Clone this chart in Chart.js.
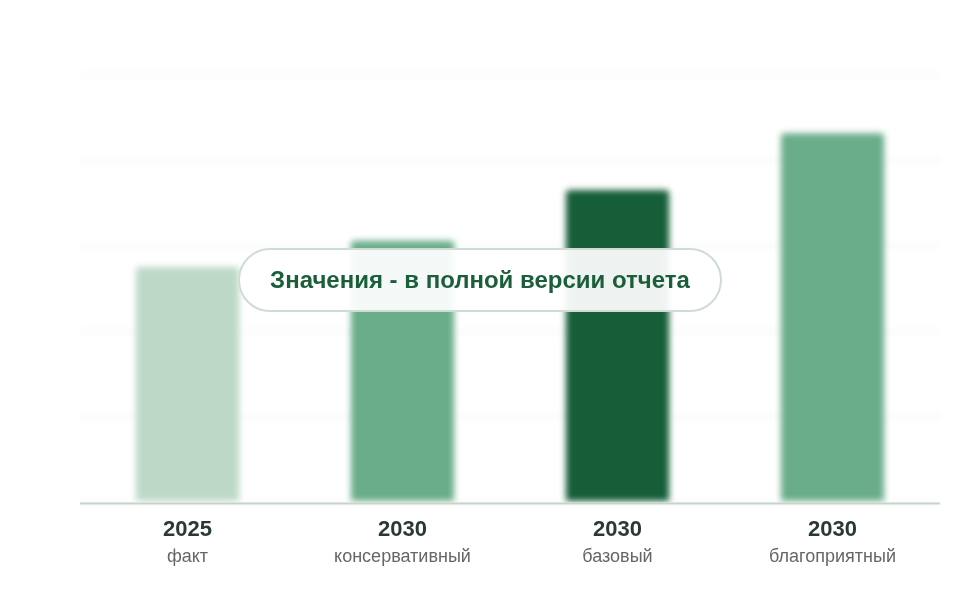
<!DOCTYPE html>
<html>
<head>
<meta charset="utf-8">
<script src="https://cdn.jsdelivr.net/npm/chart.js@4.4.0/dist/chart.umd.min.js"></script>
<style>
  html, body { margin: 0; padding: 0; background: #ffffff; }
  #wrap { position: relative; width: 960px; height: 600px; }
  canvas { display: block; }
  #pill {
    position: absolute; left: 238px; top: 248px; width: 480px; height: 60px;
    border: 2px solid #cfdcd3; border-radius: 32px;
    background: rgba(255,255,255,0.93);
    display: flex; align-items: center; justify-content: center;
    font-family: "Liberation Sans", Arial, sans-serif; font-weight: bold;
    font-size: 24px; color: #1b5e3a;
  }
</style>
</head>
<body>
<div id="wrap">
  <canvas id="c" width="960" height="600"></canvas>
  <div id="pill">Значения - в полной версии отчета</div>
</div>
<script>
const years = ["2025", "2030", "2030", "2030"];
const scenarios = ["факт", "консервативный", "базовый", "благоприятный"];
const values = [55.1, 61.2, 73.1, 86.4];
const barColors = ["#bcd9c8", "#6aad8a", "#165e38", "#6aad8a"];
const yMax = 100;
const yStep = 20;

const blurPlugin = {
  id: 'blurPlugin',
  beforeDraw(chart) {
    chart.ctx.save();
    chart.ctx.filter = 'blur(3px)';
  },
  afterDatasetsDraw(chart) {
    chart.ctx.restore();
    const ctx = chart.ctx;
    const area = chart.chartArea;
    ctx.save();
    ctx.strokeStyle = '#c5d4ca';
    ctx.lineWidth = 2;
    ctx.beginPath();
    ctx.moveTo(area.left, area.bottom + 1);
    ctx.lineTo(area.right, area.bottom + 1);
    ctx.stroke();
    ctx.restore();
  }
};

new Chart(document.getElementById('c'), {
  type: 'bar',
  data: {
    labels: years,
    datasets: [{
      data: values,
      backgroundColor: barColors,
      borderRadius: 4,
      borderSkipped: 'bottom',
      categoryPercentage: 1.0,
      barPercentage: 0.48
    }]
  },
  options: {
    responsive: false,
    animation: false,
    layout: { padding: { left: 80, right: 20, top: 75, bottom: 28 } },
    plugins: { legend: { display: false }, tooltip: { enabled: false } },
    scales: {
      x: {
        position: 'bottom',
        weight: 1,
        afterFit: (s) => { s.height = 40; },
        grid: { display: false, drawTicks: false },
        border: { display: false },
        ticks: {
          z: 1,
          padding: 14,
          color: '#2b3a31',
          font: { family: '"Liberation Sans", Arial, sans-serif', size: 22, weight: 'bold' }
        }
      },
      x2: {
        type: 'category',
        position: 'bottom',
        weight: 2,
        labels: scenarios,
        grid: { display: false, drawTicks: false },
        border: { display: false },
        ticks: {
          z: 1,
          padding: 4,
          color: '#666666',
          font: { family: '"Liberation Sans", Arial, sans-serif', size: 18 }
        }
      },
      y: {
        min: 0, max: yMax,
        ticks: { display: false, stepSize: yStep },
        border: { display: false },
        grid: { color: 'rgba(0,0,0,0.04)', lineWidth: 3, drawTicks: false }
      }
    }
  },
  plugins: [blurPlugin]
});
</script>
</body>
</html>
